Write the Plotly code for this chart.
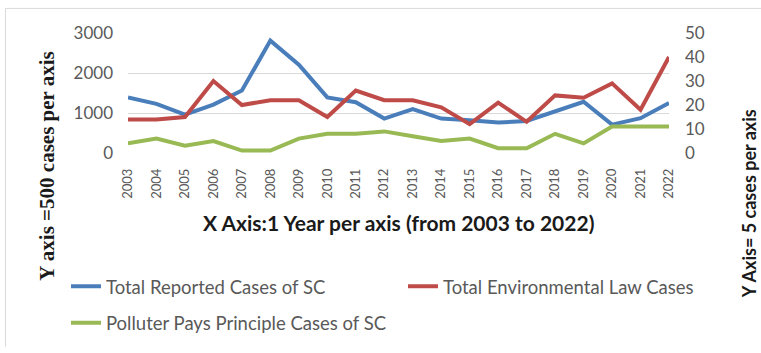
import plotly.graph_objects as go

years = [str(y) for y in range(2003, 2023)]

total_sc_cases = [1390, 1230, 960, 1210, 1560, 2810, 2210, 1390, 1270, 860,
                  1100, 860, 820, 760, 800, 1030, 1280, 710, 870, 1250]
env_law_cases = [14, 14, 15, 30, 20, 22, 22, 15, 26, 22,
                 22, 19, 12, 21, 13, 24, 23, 29, 18, 40]
polluter_pays_cases = [4, 6, 3, 5, 1, 1, 6, 8, 8, 9,
                       7, 5, 6, 2, 2, 8, 4, 11, 11, 11]

left_ticks = [0, 1000, 2000, 3000]
right_ticks = [0, 10, 20, 30, 40, 50]

BLUE = "#4A7EBB"
RED = "#BE4B48"
GREEN = "#98B954"
GREY_TXT = "#595959"
GRID = "#D9D9D9"
FONT = "Lato"

fig = go.Figure()
fig.add_trace(go.Scatter(x=years, y=total_sc_cases, name="Total Reported Cases of SC",
                         mode="lines", line=dict(color=BLUE, width=4), legend="legend"))
fig.add_trace(go.Scatter(x=years, y=env_law_cases, name="Total Environmental Law Cases",
                         mode="lines", line=dict(color=RED, width=4), yaxis="y2", legend="legend2"))
fig.add_trace(go.Scatter(x=years, y=polluter_pays_cases, name="Polluter Pays Principle Cases of SC",
                         mode="lines", line=dict(color=GREEN, width=4), yaxis="y2", legend="legend3"))

L, R, T, B = 128, 92, 33, 198
W, H = 761, 353
pw, ph = W - L - R, H - T - B


def px_x(x):
    return (x - L) / pw


def px_y(y):
    return (H - B - y) / ph


legend_font = dict(family=FONT, size=18.5, color=GREY_TXT)


def legend_at(x, y):
    return dict(orientation="h", x=px_x(x), y=px_y(y), xanchor="left", yanchor="middle",
                font=legend_font, bgcolor="rgba(0,0,0,0)", borderwidth=0)


fig.update_layout(
    width=W, height=H,
    margin=dict(l=L, r=R, t=T, b=B),
    paper_bgcolor="white", plot_bgcolor="white",
    xaxis=dict(type="category", tickangle=-90, showgrid=False, showline=False, ticks="",
               tickfont=dict(family=FONT, size=13, color=GREY_TXT), ticklabelstandoff=12),
    yaxis=dict(range=[0, 3000], tickvals=left_ticks, gridcolor=GRID, gridwidth=1,
               zeroline=False, showline=False,
               tickfont=dict(family=FONT, size=17, color=GREY_TXT), ticklabelstandoff=14),
    yaxis2=dict(range=[0, 50], tickvals=right_ticks, overlaying="y", side="right",
                showgrid=False, zeroline=False, showline=False,
                tickfont=dict(family=FONT, size=17, color=GREY_TXT), ticklabelstandoff=15),
    legend=legend_at(66, 291),
    legend2=legend_at(403, 291),
    legend3=legend_at(66, 328),
    showlegend=True,
)

fig.add_annotation(text="<b>X Axis:1 Year per axis (from 2003 to 2022)</b>",
                   xref="paper", yref="paper", x=px_x(398), y=px_y(226),
                   xanchor="center", yanchor="middle",
                   showarrow=False, font=dict(family=FONT, size=21, color="#1a1a1a"))
fig.add_annotation(text="<b>Y axis =500 cases per axis</b>",
                   xref="paper", yref="paper", x=px_x(47), y=px_y(168), textangle=-90,
                   xanchor="center", yanchor="middle",
                   showarrow=False, font=dict(family="Liberation Serif", size=21, color="#1a1a1a"))
fig.add_annotation(text="<b>Y Axis= 5 cases per axis</b>",
                   xref="paper", yref="paper", x=px_x(749), y=px_y(207), textangle=-90,
                   xanchor="center", yanchor="middle",
                   showarrow=False, font=dict(family=FONT, size=18, color="#1a1a1a"))

# chart frame (left and top edges)
fig.add_shape(type="line", xref="paper", yref="paper", x0=px_x(5.5), x1=px_x(5.5),
              y0=px_y(8), y1=px_y(352), line=dict(color=GRID, width=1))
fig.add_shape(type="line", xref="paper", yref="paper", x0=px_x(5.5), x1=px_x(770),
              y0=px_y(8), y1=px_y(8), line=dict(color=GRID, width=1))

fig.write_html("out.html")
